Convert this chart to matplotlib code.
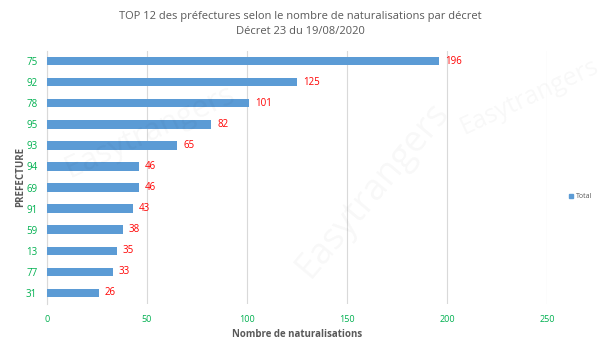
import matplotlib
matplotlib.use("Agg")
import matplotlib.pyplot as plt
from matplotlib.patches import Patch

prefectures = ["75", "92", "78", "95", "93", "94", "69", "91", "59", "13", "77", "31"]
totals = [196, 125, 101, 82, 65, 46, 46, 43, 38, 35, 33, 26]
x_ticks = [0, 50, 100, 150, 200, 250]

plt.rcParams["font.family"] = ["Open Sans", "DejaVu Sans"]

W, H = 601, 346
fig = plt.figure(figsize=(W / 100, H / 100), dpi=100)
ax = fig.add_axes([47 / W, 1 - 303.5 / H, 500 / W, 253 / H])

bar_color = "#5B9BD5"
ypos = list(range(len(prefectures)))
ax.barh(ypos, totals, height=0.4, color=bar_color, zorder=3)
ax.set_ylim(len(prefectures) - 0.5, -0.5)
ax.set_xlim(0, 250)

for y, v in zip(ypos, totals):
    ax.text(v + 3, y, str(v), va="center", ha="left", color="#FF0000", fontsize=7)

ax.set_yticks(ypos)
ax.set_yticklabels(prefectures, color="#00B050", fontsize=7)
ax.set_xticks(x_ticks)
ax.set_xticklabels([str(t) for t in x_ticks], color="#00B050", fontsize=6.5)
ax.tick_params(axis="both", length=0)
ax.tick_params(axis="y", pad=7)
ax.tick_params(axis="x", pad=8)

ax.grid(axis="x", color="#D9D9D9", linewidth=0.8, zorder=0)
for s in ["top", "right", "bottom"]:
    ax.spines[s].set_visible(False)
ax.spines["left"].set_color("#D9D9D9")
ax.spines["left"].set_linewidth(0.8)

ax.set_xlabel("Nombre de naturalisations", color="#595959", fontsize=7,
              fontweight="bold", labelpad=4)
ax.set_ylabel("PREFECTURE", color="#595959", fontsize=7, fontweight="bold")
ax.yaxis.set_label_coords(-21 / 500, 0.5)

fig.text(0.5, 1 - 16 / H, "TOP 12 des préfectures selon le nombre de naturalisations par décret",
         ha="center", va="center", color="#595959", fontsize=8)
fig.text(0.5, 1 - 31 / H, "Décret 23 du 19/08/2020",
         ha="center", va="center", color="#595959", fontsize=8)

fig.legend(handles=[Patch(color=bar_color, label="Total")], loc="center left",
           bbox_to_anchor=(563 / W, 1 - 197 / H), frameon=False, fontsize=5,
           handlelength=0.6, handleheight=0.6, handletextpad=0.4,
           labelcolor="#595959")

# faint watermark
for (x, y, r, s) in [(0.25, 0.62, 25, 22), (0.62, 0.45, 50, 26), (0.88, 0.72, 25, 18)]:
    fig.text(x, y, "Easytrangers", fontsize=s, rotation=r, color="#000000",
             alpha=0.03, ha="center", va="center", zorder=0)

fig.savefig("out.png", dpi=100, facecolor="white")
